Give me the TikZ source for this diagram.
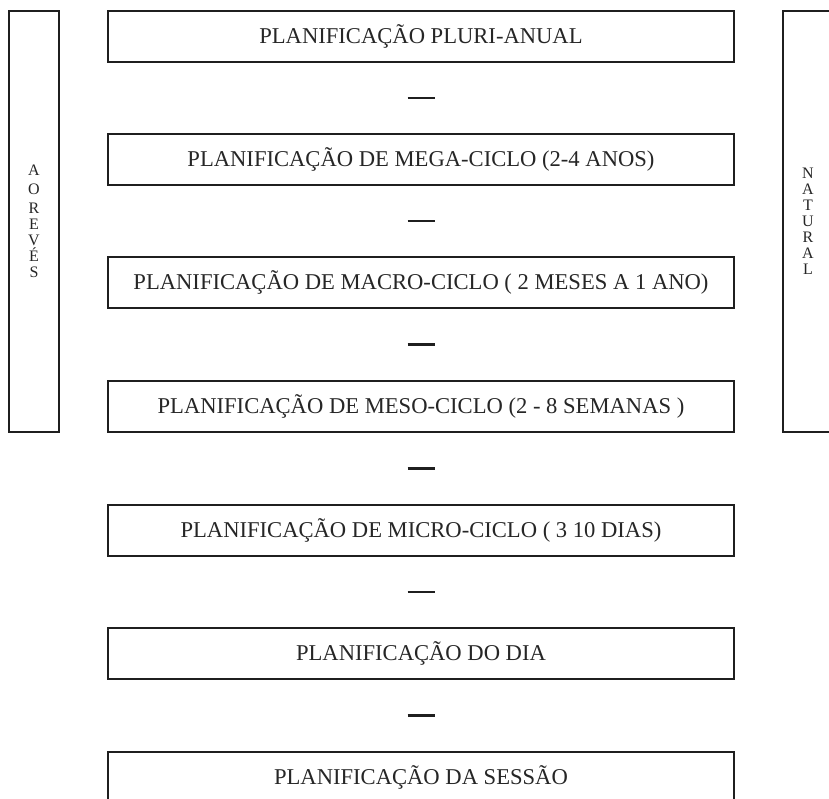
\documentclass[tikz,border=0pt]{standalone}
\usepackage{fontspec}
\setmainfont{Liberation Serif}
\usetikzlibrary{calc}
\begin{document}
\begin{tikzpicture}[x=1pt,y=-1pt,
  levelbox/.style={draw=black!88,line width=1.8pt,minimum width=626pt,minimum height=51pt,inner sep=0pt,
    font=\fontsize{22.6}{26}\selectfont,text=black!85},
  sidebox/.style={draw=black!88,line width=1.8pt,minimum width=50pt,minimum height=421pt,inner sep=0pt,
    font=\fontsize{16}{16}\selectfont,text=black!85,align=center},
  bar/.style={line width=2.5pt,draw=black!88}]
\useasboundingbox (0,0) rectangle (829,799);
\clip (0,0) rectangle (829,799);
\node[levelbox] (b1) at (421,36.5) {PLANIFICAÇÃO PLURI-ANUAL};
\node[levelbox] (b2) at (421,159.5) {PLANIFICAÇÃO DE MEGA-CICLO (2-4 ANOS)};
\node[levelbox] (b3) at (421,282.5) {PLANIFICAÇÃO DE MACRO-CICLO ( 2 MESES A 1 ANO)};
\node[levelbox] (b4) at (421,406.5) {PLANIFICAÇÃO DE MESO-CICLO (2 - 8 SEMANAS )};
\node[levelbox] (b5) at (421,530.5) {PLANIFICAÇÃO DE MICRO-CICLO ( 3 10 DIAS)};
\node[levelbox] (b6) at (421,653.5) {PLANIFICAÇÃO DO DIA};
\node[levelbox] (b7) at (421,777.5) {PLANIFICAÇÃO DA SESSÃO};
\node[sidebox] (left) at (34,221.5) {A\\[3pt]O\\[3pt]R\\E\\V\\É\\S};
\node[sidebox] (right) at (808,221.5) {N\\A\\T\\U\\R\\A\\L};
\foreach \a/\b in {b1/b2,b2/b3,b3/b4,b4/b5,b5/b6,b6/b7}{
  \coordinate (m\a) at ($(\a.south)!0.5!(\b.north)$);
  \draw[bar] ($(m\a)+(-13.5,0)$) -- ($(m\a)+(13.5,0)$);
}
\end{tikzpicture}
\end{document}
